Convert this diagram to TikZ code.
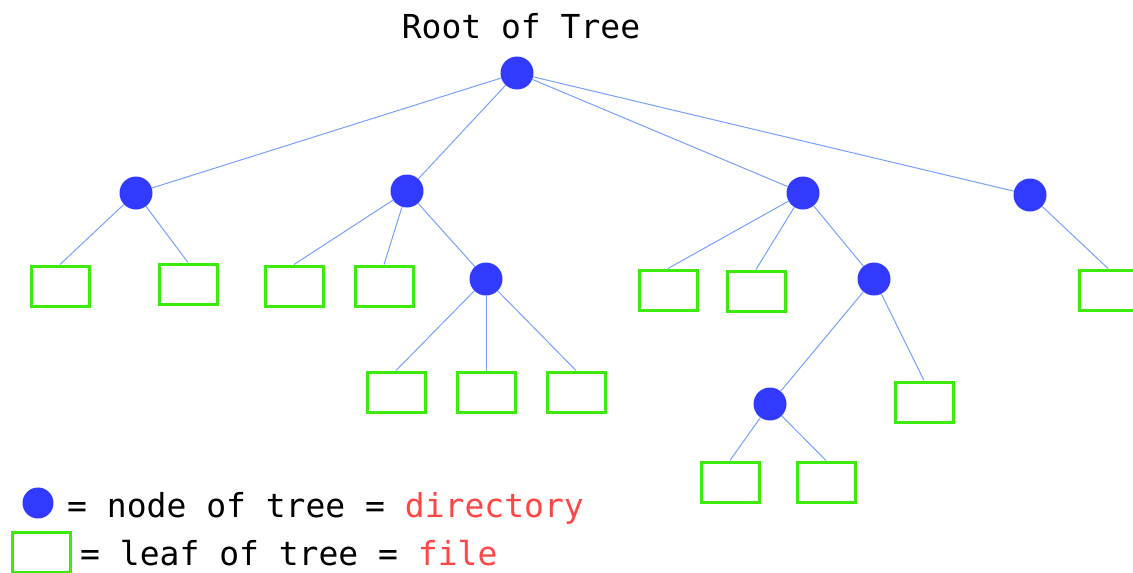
\documentclass[tikz,border=0pt]{standalone}
\usepackage{fontspec}
\setmonofont{DejaVu Sans Mono}
\definecolor{dirblue}{RGB}{51,58,255}
\definecolor{edgeblue}{RGB}{120,160,255}
\definecolor{filegreen}{RGB}{60,235,10}
\definecolor{labelred}{RGB}{255,70,70}
\begin{document}
\begin{tikzpicture}[x=1pt,y=-1pt,
  dir/.style={circle,fill=dirblue,inner sep=0pt,minimum size=33pt},
  file/.style={rectangle,draw=filegreen,line width=3pt,fill=white,minimum width=58pt,minimum height=40pt,inner sep=0pt},
  edge/.style={draw=edgeblue,line width=1pt},
  txt/.style={font=\ttfamily\fontsize{33}{36}\selectfont,inner sep=0pt}]
\useasboundingbox (0,0) rectangle (1133,573);
\node[txt,anchor=base] (title) at (521,38) {Root of Tree};
% directories
\node[dir] (root) at (517,73) {};
\node[dir] (a) at (136,193) {};
\node[dir] (b) at (407,191) {};
\node[dir] (c) at (803,193) {};
\node[dir] (d) at (1030,195) {};
\node[dir] (e) at (486,279) {};
\node[dir] (f) at (874,279) {};
\node[dir] (g) at (770,404) {};
% files
\node[file] (a1) at (60,286) {};
\node[file] (a2) at (188,284) {};
\node[file] (b1) at (294,286) {};
\node[file] (b2) at (384,286) {};
\node[file] (e1) at (396,392) {};
\node[file] (e2) at (486,392) {};
\node[file] (e3) at (576,392) {};
\node[file] (c1) at (668,290) {};
\node[file] (c2) at (756,291) {};
\node[file] (f1) at (924,402) {};
\node[file] (g1) at (730,482) {};
\node[file] (g2) at (826,482) {};
\node[file] (d1) at (1108,290) {};
% edges
\draw[edge] (root) -- (a);
\draw[edge] (root) -- (b);
\draw[edge] (root) -- (c);
\draw[edge] (root) -- (d);
\draw[edge] (a) -- (a1.north);
\draw[edge] (a) -- (a2.north);
\draw[edge] (b) -- (b1.north);
\draw[edge] (b) -- (b2.north);
\draw[edge] (b) -- (e);
\draw[edge] (e) -- (e1.north);
\draw[edge] (e) -- (e2.north);
\draw[edge] (e) -- (e3.north);
\draw[edge] (c) -- (c1.north);
\draw[edge] (c) -- (c2.north);
\draw[edge] (c) -- (f);
\draw[edge] (f) -- (g);
\draw[edge] (f) -- (f1.north);
\draw[edge] (g) -- (g1.north);
\draw[edge] (g) -- (g2.north);
\draw[edge] (d) -- (d1.north);
% legend
\node[dir,minimum size=31pt] (legdir) at (38,503) {};
\node[txt,anchor=base west] (legdirtxt) at (67,517) {= node of tree = \textcolor{labelred}{directory}};
\node[file] (legfile) at (41,552) {};
\node[txt,anchor=base west] (legfiletxt) at (80,565) {= leaf of tree = \textcolor{labelred}{file}};
\end{tikzpicture}
\end{document}
